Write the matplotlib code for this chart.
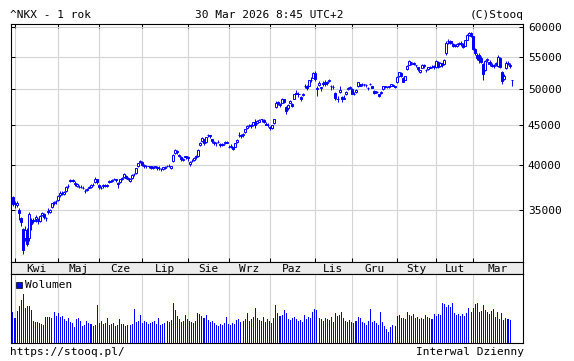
import numpy as np
import pandas as pd
import matplotlib
matplotlib.use("Agg")
import matplotlib.pyplot as plt
from matplotlib.patches import Rectangle
from matplotlib.ticker import NullLocator

# Tokyo exchange closed days in the window (weekdays only)
holidays = ["2025-04-29", "2025-05-05", "2025-05-06", "2025-07-21", "2025-08-11",
            "2025-09-15", "2025-09-23", "2025-10-13", "2025-11-03", "2025-11-24",
            "2025-12-31", "2026-01-01", "2026-01-02", "2026-01-12", "2026-02-11",
            "2026-02-23", "2026-03-20"]

month_names = ["Kwi", "Maj", "Cze", "Lip", "Sie", "Wrz", "Paz", "Lis", "Gru",
               "Sty", "Lut", "Mar"]
price_ticks = [35000, 40000, 45000, 50000, 55000, 60000]

# prices in hundreds of points, one row per month (Mar 31 first)
opens = [364,
    357,355,350,342,331,322,330,322,340,339,341,340,339,345,346,342,348,348,353,357,359,
    361,366,368,367,370,376,381,382,379,376,375,375,374,370,371,374,375,377,380,383,
    377,373,376,377,376,380,381,383,383,379,380,384,386,387,385,381,385,389,390,398,403,
    403,400,398,398,398,396,397,397,396,395,395,396,398,399,396,404,414,417,412,409,406,409,
    409,401,405,406,409,410,424,429,431,428,436,436,431,428,427,428,425,424,426,428,
    422,422,421,422,428,436,437,436,440,446,450,450,450,454,452,454,457,456,451,450,
    447,446,452,474,481,478,480,485,474,472,480,478,486,494,492,488,491,504,504,505,514,517,
    524,500,506,501,508,510,509,512,505,503,494,485,495,488,486,492,500,502,
    500,492,495,505,507,506,507,506,502,507,504,497,495,492,494,500,503,503,503,505,506,504,
    510,520,524,516,514,530,537,541,538,536,533,526,532,536,528,530,532,534,535,
    533,542,535,539,538,555,576,576,570,569,567,571,573,569,568,578,586,590,
    584,562,553,552,548,538,528,544,542,537,535,538,535,548,525,515,531,540,537,514]

highs = [365,
    360,359,352,343,332,334,332,348,342,342,345,342,345,348,347,343,352,351,357,359,361,
    366,370,370,370,376,378,384,384,381,379,377,377,376,372,373,376,378,379,386,384,
    378,376,378,378,378,382,383,385,384,380,384,386,390,388,386,385,389,390,396,402,406,
    404,401,400,399,399,398,399,398,398,396,397,398,400,401,399,413,419,418,413,410,408,411,
    410,404,407,409,412,419,428,434,432,434,438,437,432,429,428,430,426,427,429,429,
    424,425,422,427,432,440,438,439,445,450,451,451,454,458,456,457,458,457,453,452,
    448,450,458,482,482,479,487,486,475,478,484,479,492,499,496,489,494,508,506,514,518,525,
    527,504,512,503,512,513,512,515,506,506,495,490,505,489,491,497,503,504,
    501,496,500,511,508,509,508,507,503,509,505,499,497,493,497,505,505,504,505,508,507,505,
    520,526,525,518,520,537,545,542,541,537,534,529,538,538,530,534,535,536,536,
    545,543,541,540,546,576,580,578,573,571,572,574,575,572,578,587,592,591,
    585,564,556,555,551,540,545,548,544,540,538,541,552,549,527,522,543,543,539,514]

lows = [354,
    352,353,340,334,308,320,315,320,330,337,338,336,338,344,341,339,346,347,352,355,356,
    360,364,366,366,369,374,380,380,376,375,373,374,372,368,370,373,374,376,379,378,
    372,372,374,375,375,379,380,382,380,374,379,382,385,384,382,380,384,387,389,397,402,
    398,396,396,396,395,395,396,394,394,393,394,395,397,397,395,403,413,413,409,405,404,407,
    405,399,403,405,407,409,423,428,424,427,434,433,426,424,423,426,422,423,425,426,
    420,420,418,421,426,434,433,434,439,445,447,446,448,446,451,453,454,452,449,447,
    443,445,451,473,477,474,479,480,465,470,479,474,485,492,488,482,490,502,498,504,511,516,
    512,490,504,497,505,504,506,510,499,500,484,481,494,481,485,491,499,500,
    492,491,494,503,504,504,504,503,498,506,501,492,494,488,493,499,502,501,502,504,504,502,
    509,518,518,510,513,529,536,537,536,533,527,524,531,532,526,528,531,531,530,
    532,532,533,533,536,553,570,570,566,565,566,569,568,564,567,577,584,582,
    560,552,545,540,540,514,527,542,535,533,532,535,534,532,507,513,530,536,532,505]

closes = [356,
    356,357,347,338,311,330,317,346,336,340,343,339,344,347,343,342,349,350,357,358,360,
    365,368,368,369,375,376,382,381,378,378,375,375,373,370,372,375,377,377,384,380,
    375,374,377,376,377,381,382,384,382,378,383,385,389,385,384,384,388,389,396,402,405,
    400,398,398,398,396,397,398,396,396,395,397,397,399,398,398,412,418,415,410,407,407,411,
    408,403,405,408,411,418,427,433,426,434,437,435,429,426,426,428,424,425,428,427,
    422,423,419,426,430,436,435,438,444,448,449,448,453,450,455,456,458,454,450,449,
    446,449,458,479,480,477,486,481,468,477,483,476,492,493,493,486,493,505,502,513,513,524,
    515,502,509,503,509,508,511,513,504,503,487,485,498,486,487,496,502,503,
    493,493,499,510,505,506,507,506,501,508,502,494,495,490,495,504,504,503,504,508,505,503,
    518,525,520,511,519,535,543,541,539,536,530,528,537,535,529,533,534,534,533,
    543,534,540,536,544,573,575,572,568,567,570,572,570,566,577,586,590,584,
    562,555,548,544,542,522,543,546,538,535,537,539,550,534,512,520,540,538,535,513]

# volume, arbitrary units (last session not published yet)
volumes = [31,
    25,32,37,43,49,35,37,37,33,22,21,21,20,19,18,26,26,26,25,31,27,
    30,26,27,24,22,25,21,20,16,24,25,22,17,18,22,20,19,17,18,38,
    20,22,19,20,25,18,19,20,17,18,24,19,19,17,18,18,19,34,21,22,28,
    20,22,21,19,20,21,22,19,25,18,19,20,22,21,23,40,33,27,24,21,22,28,
    24,22,21,20,22,30,29,27,25,28,23,21,22,20,18,17,19,18,20,26,
    19,18,20,19,23,24,21,22,24,30,22,24,26,35,25,23,22,26,21,24,
    22,20,25,38,30,27,28,33,30,24,23,25,26,24,22,23,21,28,24,26,25,31,
    34,33,25,24,22,25,24,23,26,21,30,27,28,31,25,22,21,23,
    21,20,22,26,25,21,20,18,22,34,21,22,20,18,31,21,17,14,11,16,18,17,
    27,28,25,25,24,31,28,27,29,25,26,24,25,24,28,26,25,24,29,
    27,29,28,40,39,36,38,36,40,30,28,29,27,29,27,30,35,31,
    35,39,40,31,32,38,33,31,29,32,34,26,31,24,30,23,25,24,23,np.nan]

BLUE = "#0000ff"
GRID = "#d4d4d4"
FONT = "DejaVu Sans Mono"
FS = 8

dates = pd.bdate_range("2025-03-31", "2026-03-30")
dates = dates[~dates.isin(pd.to_datetime(holidays))]

o = np.array(opens) * 100.0
c = np.array(closes) * 100.0
h = np.maximum(np.array(highs) * 100.0, np.maximum(o, c))
l = np.minimum(np.array(lows) * 100.0, np.minimum(o, c))
v = np.array(volumes, dtype=float)
x = np.arange(len(c))

month_start = [i for i in range(1, len(dates)) if dates[i].month != dates[i - 1].month]

W, H = 574, 361
def box(left, top, right, bottom):
    return [left / W, 1 - bottom / H, (right - left) / W, (bottom - top) / H]

XLIM = (-0.95, 248.3)

fig = plt.figure(figsize=(W / 100, H / 100), dpi=100)
ax = fig.add_axes(box(11, 24, 523, 262))
band = fig.add_axes(box(11, 262, 523, 274))
axv = fig.add_axes(box(11, 274, 523, 343))

# price panel
ax.set_yscale("log")
ax.set_ylim(30040, 60530)
ax.set_xlim(*XLIM)
ax.vlines(x, l, h, color=BLUE, lw=0.7, zorder=3)
up = c >= o
ax.bar(x[up], c[up] - o[up], bottom=o[up], width=1.0, facecolor="white",
       edgecolor=BLUE, lw=0.7, zorder=4)
ax.bar(x[~up], o[~up] - c[~up], bottom=c[~up], width=1.0, facecolor=BLUE,
       edgecolor=BLUE, lw=0.7, zorder=4)
ax.set_yticks(price_ticks)
ax.set_yticklabels([str(t) for t in price_ticks], family=FONT, fontsize=FS)
ax.yaxis.set_minor_locator(NullLocator())
ax.set_xticks(month_start)
ax.set_xticklabels([])
ax.tick_params(axis="y", direction="in", length=3, width=0.75, left=True, right=True,
               labelleft=False, labelright=True, pad=3.5, colors="black")
ax.tick_params(axis="x", direction="in", length=3, width=0.75, top=True, bottom=True)
ax.grid(True, color=GRID, lw=0.8)
ax.set_axisbelow(True)

# month band
band.set_facecolor("#ececec")
band.set_xlim(*XLIM)
band.set_ylim(0, 1)
band.set_xticks([])
band.set_yticks([])
edges = month_start + [XLIM[1]]
for k, name in enumerate(month_names):
    band.text((edges[k] + edges[k + 1]) / 2, 0.45, name, ha="center", va="center",
              family=FONT, fontsize=FS)

# volume panel
axv.set_xlim(*XLIM)
axv.set_ylim(0, 69)
axv.bar(x, v, width=0.5, color=BLUE, lw=0, zorder=3, antialiased=False)
axv.set_xticks(month_start)
axv.set_xticklabels([])
axv.set_yticks([])
axv.tick_params(axis="x", length=0)
axv.grid(True, axis="x", color=GRID, lw=0.8)
axv.set_axisbelow(True)

for a in (ax, band, axv):
    for s in a.spines.values():
        s.set_linewidth(0.8)
        s.set_color("black")

fig.patches.append(Rectangle((16 / W, 1 - 288 / H), 6 / W, 6 / H, transform=fig.transFigure,
                             facecolor=BLUE, edgecolor="black", lw=0.5))
fig.text(25 / W, 1 - 284.5 / H, "Wolumen", va="center", family=FONT, fontsize=FS)

fig.text(10 / W, 1 - 14.5 / H, "^NKX - 1 rok", va="center", family=FONT, fontsize=FS)
fig.text(269 / W, 1 - 14.5 / H, "30 Mar 2026 8:45 UTC+2", ha="center", va="center",
         family=FONT, fontsize=FS)
fig.text(524 / W, 1 - 14.5 / H, "(C)Stooq", ha="right", va="center", family=FONT, fontsize=FS)
fig.text(10 / W, 1 - 352 / H, "https://stooq.pl/", va="center", family=FONT, fontsize=FS)
fig.text(524 / W, 1 - 352 / H, "Interwal Dzienny", ha="right", va="center",
         family=FONT, fontsize=FS)

fig.savefig("out.png", dpi=100)
